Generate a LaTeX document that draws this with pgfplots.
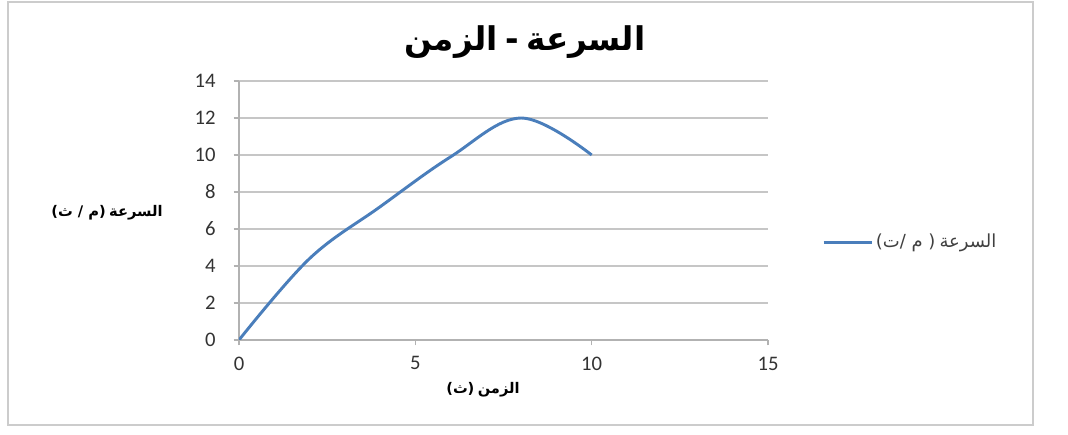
\documentclass[border=0pt]{standalone}
\usepackage{fontspec}
\setmainfont{Carlito}
\newfontfamily\af[Script=Arabic]{DejaVu Sans}
\newfontfamily\pf{DejaVu Sans}
\usepackage{pgfplots}
\pgfplotsset{compat=1.18}
\definecolor{serie}{RGB}{74,126,187}
\begin{document}
\begin{tikzpicture}[x=0.75pt,y=0.75pt]
\path[use as bounding box] (-239,-95) rectangle (829,340);
\draw[gray!40, line width=1.5pt] (-231,-85) rectangle (794,338);
\begin{axis}[
  at={(0,0)}, anchor=south west,
  scale only axis, width=396.75pt, height=194.25pt,
  xmin=0, xmax=15, ymin=0, ymax=14,
  xtick={0,5,10,15}, ytick={0,2,4,6,8,10,12,14},
  axis lines*=left,
  axis line style={gray!60, line width=1pt},
  tick align=outside, major tick length=4pt,
  tick style={gray!60, line width=1pt},
  ymajorgrids, grid style={gray!45, line width=1pt},
  /pgf/number format/assume math mode=true,
  ticklabel style={font=\fontsize{15.5}{17}\selectfont, text=black!80},
  yticklabel style={xshift=-10pt},
  xticklabel style={yshift=-5pt},
  legend style={at={(1.0945,0.378)}, anchor=west, draw=none, fill=none,
    font=\fontsize{13.5}{15}\selectfont, text=black!75},
  legend image code/.code={\draw[#1] (0pt,0pt) -- (36pt,0pt);},
]
\addplot[serie, line width=2.2pt, smooth, tension=0.6] coordinates {
  (0,0) (2,4.4) (4,7.2) (6,9.9) (8,12) (10,10)
};
\addlegendentry{{\pf(}{\af ت}{\pf/ }{\af م}{\pf\ )} {\af السرعة}}
\end{axis}
\node[font=\bfseries\fontsize{24.5}{27}\selectfont] at (286,298)
  {{\af الزمن} {\pf -} {\af السرعة}};
\node[font=\bfseries\fontsize{11}{13}\selectfont] at (-132,127)
  {{\pf(}{\af ث}{\pf\ / }{\af م}{\pf)} {\af السرعة}};
\node[font=\bfseries\fontsize{11}{13}\selectfont] at (244,-50)
  {{\pf(}{\af ث}{\pf)} {\af الزمن}};
\end{tikzpicture}
\end{document}
